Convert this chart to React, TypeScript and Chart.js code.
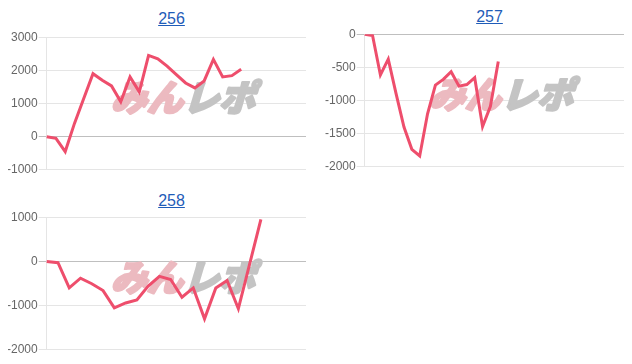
import React, { useEffect, useRef } from "react";
import { Chart, registerables } from "chart.js";

Chart.register(...registerables);

// ---- data ----
const TITLES = ["256", "257", "258"];

const LABELS_256 = ["1","2","3","4","5","6","7","8","9","10","11","12","13","14","15","16","17","18","19","20","21","22","23","24","25","26","27","28","29"];
const VALUES_256 = [0, -50, -450, 400, 1150, 1900, 1700, 1530, 1050, 1800, 1350, 2450, 2350, 2130, 1870, 1620, 1470, 1680, 2330, 1800, 1840, 2030];
const TICKS_256 = { min: -1000, max: 3000, step: 1000 };

const LABELS_257 = ["1","2","3","4","5","6","7","8","9","10","11","12","13","14","15","16","17","18","19","20","21","22","23","24","25","26","27","28","29","30","31","32","33","34"];
const VALUES_257 = [0, -20, -615, -377, -900, -1400, -1736, -1837, -1200, -768, -682, -565, -783, -759, -656, -1394, -1088, -412];
const TICKS_257 = { min: -2000, max: 0, step: 500 };

const LABELS_258 = ["1","2","3","4","5","6","7","8","9","10","11","12","13","14","15","16","17","18","19","20","21","22","23","24"];
const VALUES_258 = [0, -30, -600, -380, -505, -660, -1050, -940, -870, -560, -340, -410, -810, -600, -1300, -600, -430, -1070, -60, 950];
const TICKS_258 = { min: -2000, max: 1000, step: 1000 };

const WATERMARK_A = "みん";
const WATERMARK_B = "レポ";

const LINE_COLOR = "rgb(238, 78, 108)";
const FONT = "'Liberation Sans', Arial, Helvetica, sans-serif";

const watermarkPlugin = {
  id: "watermark",
  beforeDatasetsDraw(chart: any) {
    const { ctx, chartArea } = chart;
    const cx = (chartArea.left + chartArea.right) / 2 + 11;
    const cy = (chartArea.top + chartArea.bottom) / 2 - 8;
    ctx.save();
    ctx.font = "900 36px 'Noto Sans CJK JP', sans-serif";
    ctx.textBaseline = "middle";
    ctx.lineJoin = "round";
    ctx.lineWidth = 2.5;
    const wa = ctx.measureText(WATERMARK_A).width;
    const wb = ctx.measureText(WATERMARK_B).width;
    const gap = 0;
    const total = wa + gap + wb;
    ctx.translate(cx, cy);
    ctx.transform(1, 0, -0.3, 1, 0, 0);
    ctx.fillStyle = "rgb(236, 186, 192)";
    ctx.strokeStyle = "rgb(236, 186, 192)";
    ctx.fillText(WATERMARK_A, -total / 2, 2);
    ctx.strokeText(WATERMARK_A, -total / 2, 2);
    ctx.fillStyle = "rgb(196, 196, 196)";
    ctx.strokeStyle = "rgb(196, 196, 196)";
    ctx.fillText(WATERMARK_B, -total / 2 + wa + gap, 2);
    ctx.strokeText(WATERMARK_B, -total / 2 + wa + gap, 2);
    ctx.restore();
  },
};

type Props = {
  title: string;
  labels: string[];
  values: number[];
  ticks: { min: number; max: number; step: number };
  left: number;
  top: number;
  canvasTop: number;
};

function MiniChart({ title, labels, values, ticks, left, top, canvasTop }: Props) {
  const ref = useRef<HTMLCanvasElement | null>(null);
  useEffect(() => {
    if (!ref.current) return;
    const chart = new Chart(ref.current, {
      type: "line",
      data: {
        labels,
        datasets: [
          {
            data: values,
            borderColor: LINE_COLOR,
            backgroundColor: LINE_COLOR,
            borderWidth: 3,
            pointRadius: 0,
            tension: 0,
            fill: false,
          },
        ],
      },
      options: {
        responsive: false,
        animation: false,
        plugins: { legend: { display: false }, tooltip: { enabled: false }, title: { display: false } },
        layout: { padding: 0 },
        scales: {
          x: { display: false },
          y: {
            min: ticks.min,
            max: ticks.max,
            ticks: {
              stepSize: ticks.step,
              color: "#666",
              font: { family: FONT, size: 12 },
              padding: 1,
              callback: (v: any) => String(v),
            },
            grid: {
              color: (c: any) => (c.tick && c.tick.value === 0 ? "rgba(0,0,0,0.25)" : "rgba(0,0,0,0.1)"),
              tickLength: 8,
            },
            border: { display: true, color: "rgba(0,0,0,0.1)" },
          },
        },
      },
      plugins: [watermarkPlugin],
    });
    return () => chart.destroy();
  }, []);

  return (
    <div style={{ position: "absolute", left, top, width: 300, height: 175 }}>
      <div
        style={{
          position: "absolute",
          left: 0,
          top: 0,
          width: 300,
          boxSizing: "border-box",
          paddingLeft: 31,
          textAlign: "center",
          fontFamily: FONT,
          fontSize: 16,
        }}
      >
        <a href="#" style={{ color: "#1f5cb8", textDecoration: "underline" }}>
          {title}
        </a>
      </div>
      <canvas ref={ref} width={300} height={149} style={{ position: "absolute", left: 0, top: canvasTop, display: "block" }} />
    </div>
  );
}

export default function App() {
  return (
    <div style={{ position: "relative", left: -2, width: 616, height: 348 }}>
      <MiniChart title={TITLES[0]} labels={LABELS_256} values={VALUES_256} ticks={TICKS_256} left={0} top={2} canvasTop={19} />
      <MiniChart title={TITLES[1]} labels={LABELS_257} values={VALUES_257} ticks={TICKS_257} left={318} top={0} canvasTop={18} />
      <MiniChart title={TITLES[2]} labels={LABELS_258} values={VALUES_258} ticks={TICKS_258} left={0} top={184} canvasTop={17} />
    </div>
  );
}
